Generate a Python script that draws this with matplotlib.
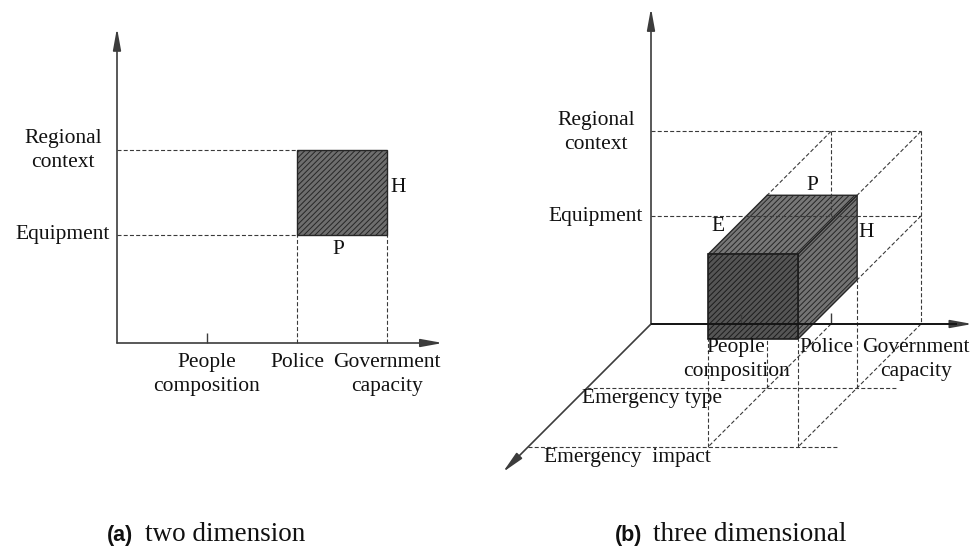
import matplotlib
matplotlib.use("Agg")
import matplotlib.pyplot as plt
from matplotlib.patches import Polygon

# ---------------- data (logical positions of the conceptual axes) ----------------
x_categories = ["People\ncomposition", "Police", "Government\ncapacity"]
x_positions = [1.0, 2.0, 3.0]
y_categories = ["Equipment", "Regional\ncontext"]
y_levels = [1.2, 2.14]
depth_categories = ["Emergency type", "Emergency  impact"]
depth_levels = [1.03, 1.98]
captions = [("(a)", "two dimension"), ("(b)", "three dimensional")]
box_x_range = [x_positions[1], x_positions[2]]        # Police .. Government capacity
box_y_range = [y_levels[0], y_levels[1]]              # Equipment .. Regional context
box_depth_range = [depth_levels[0], depth_levels[1]]  # Emergency type .. impact

# ---------------- layout / style ----------------
W, H = 978, 547
O2 = (117.0, 343.0)     # origin of 2-D panel (pixels)
O3 = (651.0, 324.0)     # origin of 3-D panel (pixels)
UNIT = 90.0
DV = (-62.0, 62.0)      # pixel shift of one depth unit
AXC = "#3c3c3c"
DASHC = "#3a3a3a"
SERIF = ["Liberation Serif", "DejaVu Serif"]
LBL = 15.5
DASH = dict(color=DASHC, lw=0.8, ls=(0, (3.6, 2.0)))

plt.rcParams["hatch.linewidth"] = 0.7

fig = plt.figure(figsize=(W / 100, H / 100), dpi=100)
ax = fig.add_axes([0, 0, 1, 1])
ax.set_xlim(0, W)
ax.set_ylim(H, 0)
ax.axis("off")


def p2(x, y):
    return (O2[0] + UNIT * x, O2[1] - UNIT * y)


def p3(x, h, d):
    return (O3[0] + UNIT * x + DV[0] * d, O3[1] - UNIT * h + DV[1] * d)


def seg(a, b, z=2, **kw):
    ax.plot([a[0], b[0]], [a[1], b[1]], zorder=z, solid_capstyle="butt", **kw)


def arrow(start, tip):
    ax.annotate("", xy=tip, xytext=start,
                arrowprops=dict(arrowstyle="-|>,head_length=1.1,head_width=0.2",
                                mutation_scale=12, color=AXC, lw=1.2,
                                shrinkA=0, shrinkB=0), zorder=6)


def txt(x, y, s, size=LBL, ha="center", va="center", **kw):
    ax.text(x, y, s, fontsize=size, family=SERIF, ha=ha, va=va, color="#111111",
            linespacing=1.37, zorder=8, **kw)


# ======================= (a) two dimension =======================
arrow(p2(0, 0), p2(3.62, 0))
arrow(p2(0, 0), p2(0, 3.5))
# tick for People composition
seg(p2(x_positions[0], 0), p2(x_positions[0], 0.11), color=AXC, lw=1.0)

# dashed guides
for yl in y_levels:
    seg(p2(0, yl), p2(box_x_range[0], yl), **DASH)
seg(p2(box_x_range[0], 0), p2(box_x_range[0], box_y_range[0]), **DASH)
seg(p2(box_x_range[1], 0), p2(box_x_range[1], box_y_range[0]), **DASH)

# hatched square
sq = [p2(box_x_range[0], box_y_range[0]), p2(box_x_range[1], box_y_range[0]),
      p2(box_x_range[1], box_y_range[1]), p2(box_x_range[0], box_y_range[1])]
ax.add_patch(Polygon(sq, closed=True, facecolor="#6e6e6e", edgecolor="#262626",
                     hatch="//////", lw=1.0, zorder=3))

# labels
for yl, name in zip(y_levels, y_categories):
    txt(O2[0] - 54, p2(0, yl)[1], name)
for xp, name in zip(x_positions, x_categories):
    txt(p2(xp, 0)[0], O2[1] + 10, name, va="top")
cx = (box_x_range[0] + box_x_range[1]) / 2
cy = (box_y_range[0] + box_y_range[1]) / 2
txt(p2(box_x_range[1], cy)[0] + 11, p2(box_x_range[1], cy)[1] - 5, "H")
txt(p2(cx, box_y_range[0])[0] - 4, p2(cx, box_y_range[0])[1] + 14, "P")

# ======================= (b) three dimensional =======================
arrow(p3(0, 0, 0), p3(3.57, 0, 0))
arrow(p3(0, 0, 0), p3(0, 3.51, 0))
arrow(p3(0, 0, 0), p3(0, 0, 2.39))

xa, xb = box_x_range
ya, yb = box_y_range
da, db = box_depth_range

# dashed guides behind the box
for yl in y_levels:
    seg(p3(0, yl, 0), p3(xb, yl, 0), z=4, **DASH)
seg(p3(xa, yb, 0), p3(xa, ya, 0), z=4, **DASH)
seg(p3(xb, yb, 0), p3(xb, 0, 0), **DASH)
seg(p3(xa, yb, 0), p3(xa, yb, da), **DASH)
seg(p3(xb, yb, 0), p3(xb, yb, da), **DASH)
seg(p3(xb, ya, 0), p3(xb, ya, da), **DASH)
for xp in (xa, xb):
    seg(p3(xp, 0, 0), p3(xp, 0, db), **DASH)
    seg(p3(xp, 0, db), p3(xp, ya, db), **DASH)
    seg(p3(xp, 0, da), p3(xp, ya, da), **DASH)
for dl in depth_levels:
    seg(p3(0, 0, dl), p3(xb + 0.45, 0, dl), **DASH)
# tick marks on the x axis
for xp in x_positions[:2]:
    seg(p3(xp, 0, 0), p3(xp, 0.12, 0), z=5, color=AXC, lw=1.0)

# box faces
top = [p3(xa, yb, db), p3(xb, yb, db), p3(xb, yb, da), p3(xa, yb, da)]
right = [p3(xb, ya, db), p3(xb, ya, da), p3(xb, yb, da), p3(xb, yb, db)]
front = [p3(xa, ya, db), p3(xb, ya, db), p3(xb, yb, db), p3(xa, yb, db)]
for face, fc in ((top, "#777777"), (right, "#737373")):
    ax.add_patch(Polygon(face, closed=True, facecolor=fc, edgecolor="#262626",
                         hatch="//////", lw=1.0, zorder=3))
ax.add_patch(Polygon(front, closed=True, facecolor="#555555", edgecolor="#1c1c1c",
                     hatch="//////", lw=1.2, zorder=3))
# x axis line passes over the box
seg(p3(0, 0, 0), p3(3.4, 0, 0), z=6, color="#111111", lw=1.3)

# labels
for yl, name in zip(y_levels, y_categories):
    txt(O3[0] - 55, p3(0, yl, 0)[1] + 1, name)
for xp, name in zip(x_positions, x_categories):
    txt(p3(xp, 0, 0)[0] - 5, O3[1] + 14, name, va="top")
dep_offsets = [65, 99]
for dl, name, off in zip(depth_levels, depth_categories, dep_offsets):
    sx, sy = p3(0, 0, dl)
    txt(sx + off, sy + 11, name)
px_, py_ = p3((xa + xb) / 2, yb, da)
txt(px_, py_ - 10, "P")
ex_, ey_ = p3(xa, yb, (da + db) / 2)
txt(ex_ - 20, ey_ + 2, "E")
hx_, hy_ = p3(xb, cy, da)
txt(hx_ + 9, hy_ - 5, "H")

# ======================= captions =======================
cap_pos = [(107, 145), (615, 653)]
for (lab, desc), (x1, x2) in zip(captions, cap_pos):
    ax.text(x1, 541, lab, fontsize=15.5, family=["Liberation Sans", "DejaVu Sans"],
            fontweight="bold", ha="left", va="baseline", color="#111111")
    ax.text(x2, 541, desc, fontsize=19.5, family=SERIF, ha="left", va="baseline",
            color="#111111")

fig.savefig("out.png", dpi=100)
